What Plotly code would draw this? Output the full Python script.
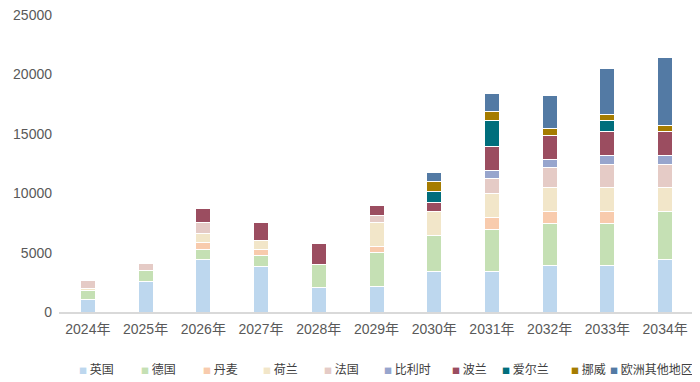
import plotly.graph_objects as go

years = ["2024年", "2025年", "2026年", "2027年", "2028年", "2029年", "2030年", "2031年", "2032年", "2033年", "2034年"]

uk       = [1080, 2600, 4450, 3800, 2050, 2150, 3380, 3450, 3950, 3950, 4400]
germany  = [ 700,  900,  850,  950, 1950, 2900, 3050, 3480, 3520, 3480, 4020]
denmark  = [   0,    0,  520,  470,    0,  500,    0, 1020, 1000, 1020,    0]
nether   = [ 180,    0,  800,  780,    0, 1950, 2000, 2030, 2000, 2030, 2030]
france   = [ 650,  620,  920,    0,    0,  600,    0, 1250, 1660, 1950, 1950]
belgium  = [   0,    0,    0,    0,    0,    0,    0,  690,  700,  750,  750]
poland   = [   0,    0, 1170, 1520, 1800,  830,  775, 2000, 2030, 2020, 2020]
ireland  = [   0,    0,    0,    0,    0,    0,  975, 2170,    0,  890,    0]
norway   = [   0,    0,    0,    0,    0,    0,  775,  800,  560,  550,  500]
other    = [   0,    0,    0,    0,    0,    0,  750, 1470, 2770, 3830, 5750]

series = [
    ("英国", uk, "#BDD7EE"),
    ("德国", germany, "#C5E0B4"),
    ("丹麦", denmark, "#F8CBAD"),
    ("荷兰", nether, "#F2E6C9"),
    ("法国", france, "#E5CBC6"),
    ("比利时", belgium, "#97A5CD"),
    ("波兰", poland, "#9B4D60"),
    ("爱尔兰", ireland, "#006E7C"),
    ("挪威", norway, "#A57C00"),
    ("欧洲其他地区", other, "#537AA4"),
]

# page body adds an 8px offset; figure coordinates are page coordinates minus 8
OFF = 8
legend_px = [77, 139, 201, 261, 322, 382, 450, 500, 569, 608]

W, H = 700 - OFF, 382 - OFF
PL, PT = 59 - OFF, 15 - OFF
PB = H - (312 - OFF)
PR = W - (694 - OFF)
pw = W - PL - PR
ph = H - PT - PB

fig = go.Figure()
for name, vals, col in series:
    fig.add_trace(go.Bar(
        x=years, y=vals, name=name, showlegend=False,
        marker=dict(color=col, line=dict(color="white", width=1)),
    ))

annotations = []
for (name, vals, col), px in zip(series, legend_px):
    annotations.append(dict(
        xref="paper", yref="paper",
        x=(px - OFF - PL) / pw, y=-(368 - 312) / ph,
        xanchor="left", yanchor="middle", showarrow=False,
        text=f"<span style='font-size:8px;color:{col}'>■</span> {name}",
        font=dict(family="Noto Sans CJK SC", size=12, color="#404040"),
    ))

fig.update_layout(
    barmode="stack",
    bargap=0.74,
    width=W, height=H,
    margin=dict(l=PL, r=PR, t=PT, b=PB),
    plot_bgcolor="white", paper_bgcolor="white",
    font=dict(family="Liberation Sans, Noto Sans CJK SC", size=14, color="#595959"),
    showlegend=False,
    annotations=annotations,
    xaxis=dict(
        showline=True, linecolor="#D9D9D9", linewidth=1.5,
        ticks="", automargin=False, ticklabelstandoff=3,
        tickfont=dict(size=14, color="#595959",
                      family="Liberation Sans, Noto Sans CJK SC"),
    ),
    yaxis=dict(
        range=[0, 25000], dtick=5000, showgrid=False, zeroline=False,
        showline=False, ticks="", tickformat="d", automargin=False,
        ticklabelstandoff=6, ticklabeloverflow="allow",
        tickfont=dict(size=14, color="#595959"),
    ),
)

fig.write_html("out.html")
